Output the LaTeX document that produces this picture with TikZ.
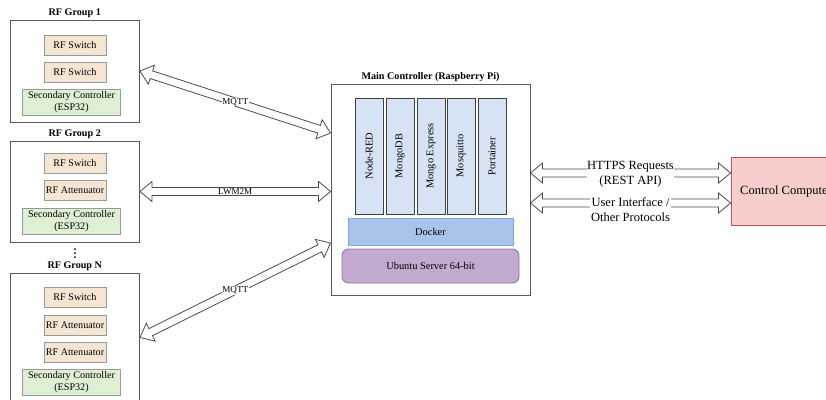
\documentclass[tikz,border=0pt]{standalone}
\usepackage{fontspec}
\setmainfont{Liberation Serif}
\usetikzlibrary{calc}
\definecolor{rfc}{HTML}{F5E6D4}
\definecolor{secc}{HTML}{DDF0D4}
\definecolor{colc}{HTML}{D6E3F5}
\definecolor{dockc}{HTML}{A9C4EB}
\definecolor{dockb}{HTML}{7EA6E0}
\definecolor{ubuc}{HTML}{C3ABD0}
\definecolor{ubub}{HTML}{9673A6}
\definecolor{ccc}{HTML}{F8CECC}
\definecolor{ccb}{HTML}{B85450}
\tikzset{
  grp/.style={draw=black!65, line width=0.75pt, fill=white, inner sep=0pt, minimum width=97.1pt},
  grplbl/.style={font=\fontsize{7.6}{9}\selectfont\bfseries, inner sep=1pt},
  rfbox/.style={draw=black!40, line width=0.6pt, fill=rfc, inner sep=0pt, minimum width=46.5pt, minimum height=15pt, font=\fontsize{7.6}{9}\selectfont},
  secbox/.style={draw=black!40, line width=0.6pt, fill=secc, inner sep=0pt, minimum width=73.5pt, minimum height=19.5pt, align=center, font=\fontsize{7.6}{9}\selectfont},
  colbox/.style={draw=black!75, line width=0.7pt, fill=colc, inner sep=0pt, minimum width=87pt, minimum height=21pt, rotate=90, font=\fontsize{7.8}{9}\selectfont},
  arrstyle/.style={draw=black!70, line width=0.6pt, fill=white, line join=miter},
  arrlbl/.style={fill=white, inner sep=0.4pt, font=\fontsize{6.8}{8}\selectfont},
  arrlblr/.style={fill=white, inner sep=0.4pt, align=center, font=\fontsize{9.4}{11.25}\selectfont},
}
\newcommand{\flexarr}[2]{%
  \draw[arrstyle] (#1)
    -- ($(#1)!9pt!(#2)!7.5pt!90:(#2)$)
    -- ($(#1)!9pt!(#2)!3pt!90:(#2)$)
    -- ($(#2)!9pt!(#1)!3pt!-90:(#1)$)
    -- ($(#2)!9pt!(#1)!7.5pt!-90:(#1)$)
    -- (#2)
    -- ($(#2)!9pt!(#1)!7.5pt!90:(#1)$)
    -- ($(#2)!9pt!(#1)!3pt!90:(#1)$)
    -- ($(#1)!9pt!(#2)!3pt!-90:(#2)$)
    -- ($(#1)!9pt!(#2)!7.5pt!-90:(#2)$)
    -- cycle;}
\begin{document}
\begin{tikzpicture}[x=0.75pt, y=-0.75pt]
\useasboundingbox (0,0) rectangle (826,400);
\clip (0,0) rectangle (826,400);
\fill[white] (0,0) rectangle (826,400);

% RF groups
\node[grp, minimum height=76.5pt, label={[grplbl]above:RF Group 1}] (g1) at (74.75,71) {};
\node[rfbox] (g1a) at (75,45) {RF Switch};
\node[rfbox] (g1b) at (75,72) {RF Switch};
\node[secbox] (g1s) at (71.5,102) {Secondary Controller\\(ESP32)};

\node[grp, minimum height=75.75pt, label={[grplbl]above:RF Group 2}] (g2) at (74.75,191.5) {};
\node[rfbox] (g2a) at (75,163) {RF Switch};
\node[rfbox] (g2b) at (75,190) {RF Attenuator};
\node[secbox] (g2s) at (71.5,221) {Secondary Controller\\(ESP32)};

\foreach \yy in {249,253,257} \fill[black] (75,\yy) circle (0.75pt);

\node[grp, minimum height=96.75pt, label={[grplbl]above:RF Group N}] (gN) at (74.75,337.5) {};
\node[rfbox] (gNa) at (75,297) {RF Switch};
\node[rfbox] (gNb) at (75,325) {RF Attenuator};
\node[rfbox] (gNc) at (75,352) {RF Attenuator};
\node[secbox] (gNs) at (71.5,382) {Secondary Controller\\(ESP32)};

% Main controller
\node[grp, minimum width=149.25pt, minimum height=158.25pt, label={[grplbl]above:Main Controller (Raspberry Pi)}] (mc) at (430.5,189.5) {};
\node[colbox] (c1) at (369,156) {Node-RED};
\node[colbox] (c2) at (400,156) {MongoDB};
\node[colbox] (c3) at (431,156) {Mongo Express};
\node[colbox] (c4) at (461,156) {Mosquitto};
\node[colbox] (c5) at (492,156) {Portainer};
\node[draw=dockb, line width=0.7pt, fill=dockc, inner sep=0pt, minimum width=123.75pt, minimum height=20.25pt, font=\fontsize{7.8}{9}\selectfont] (dk) at (430.5,231.5) {Docker};
\node[draw=ubub, line width=0.7pt, fill=ubuc, rounded corners=5pt, inner sep=0pt, minimum width=132.75pt, minimum height=25.5pt, font=\fontsize{7.8}{9}\selectfont] (ub) at (430.5,266) {Ubuntu Server 64-bit};

% Control computer
\node[draw=ccb, line width=0.7pt, fill=ccc, inner sep=0pt, minimum width=82.5pt, minimum height=51pt, font=\fontsize{9.4}{11}\selectfont] (cc) at (786,191) {Control Computer};

% connectors
\coordinate (m1a) at (g1.east);
\coordinate (m1b) at ($(mc.west)+(0,-56.5)$);
\flexarr{m1a}{m1b}
\node[arrlbl] at ($(m1a)!0.5!(m1b)$) {MQTT};

\coordinate (l2a) at (g2.east);
\coordinate (l2b) at (g2.east -| mc.west);
\flexarr{l2a}{l2b}
\node[arrlbl] at ($(l2a)!0.5!(l2b)$) {LWM2M};

\coordinate (mNa) at (gN.east);
\coordinate (mNb) at ($(mc.west)+(0,53.5)$);
\flexarr{mNa}{mNb}
\node[arrlbl] at ($(mNa)!0.5!(mNb)$) {MQTT};

\coordinate (h2) at ($(cc.west)+(0,-18)$);
\coordinate (h1) at (h2 -| mc.east);
\flexarr{h1}{h2}
\node[arrlblr] at ($(h1)!0.5!(h2)+(0,1.5)$) {HTTPS Requests\\(REST API)};

\coordinate (u2) at ($(cc.west)+(0,12)$);
\coordinate (u1) at (u2 -| mc.east);
\flexarr{u1}{u2}
\node[arrlblr] at ($(u1)!0.5!(u2)+(0,6.5)$) {User Interface /\\Other Protocols};
\end{tikzpicture}
\end{document}
